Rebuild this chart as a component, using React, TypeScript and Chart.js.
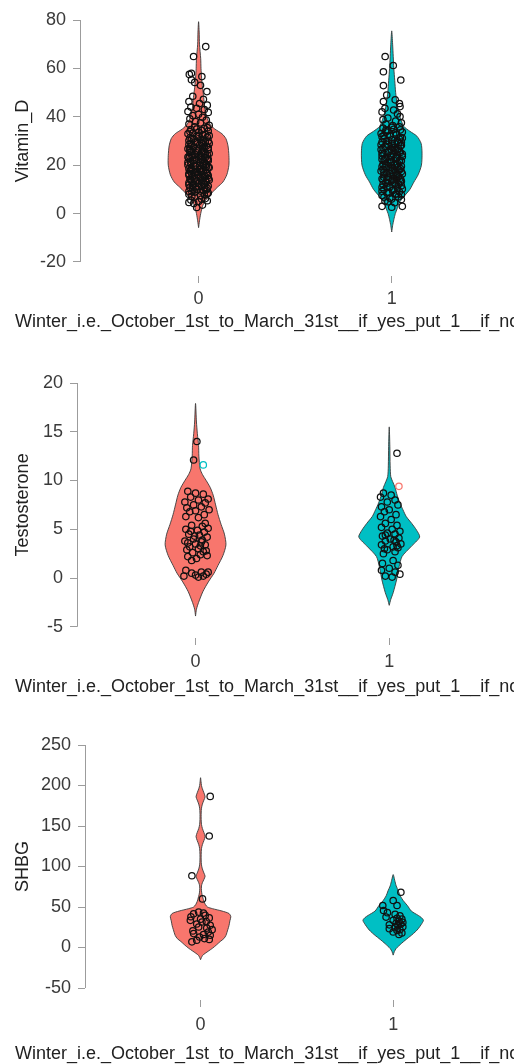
import React, { useEffect, useRef } from "react";
import { Chart, registerables } from "chart.js";

Chart.register(...registerables);

const FONT = "'Liberation Sans', Arial, Helvetica, sans-serif";
Chart.defaults.font.family = FONT;

// ---------- shared ----------
const groupLabels = ["0", "1"];
const groupPositions = [0, 1];
const xTitle = "Winter_i.e._October_1st_to_March_31st__if_yes_put_1__if_no_put_0";

// ---------- Vitamin_D ----------
const vitDTicks = [-20, 0, 20, 40, 60, 80];
const vitD0Levels = [-5.8, -3, 0, 3, 5, 7, 9, 11, 13, 16, 20, 24, 28, 31, 33, 35, 37, 40, 44, 48, 52, 56, 60, 64, 70, 75, 79.3];
const vitD0Density = [0, 0.03, 0.07, 0.13, 0.2, 0.33, 0.47, 0.63, 0.8, 0.93, 1.0, 1.0, 0.97, 0.9, 0.77, 0.53, 0.37, 0.27, 0.2, 0.17, 0.13, 0.1, 0.08, 0.07, 0.03, 0.02, 0];
const vitD1Levels = [-7.6, -5, -2.5, 0, 2, 4.5, 7, 10, 13, 16, 20, 25, 29, 32, 34, 36, 39, 42, 46, 50, 55, 60, 65, 70, 75.5];
const vitD1Density = [0, 0.03, 0.07, 0.12, 0.18, 0.25, 0.4, 0.6, 0.73, 0.87, 0.98, 1.0, 0.97, 0.83, 0.6, 0.4, 0.3, 0.23, 0.17, 0.13, 0.1, 0.07, 0.05, 0.03, 0];
// [value, jitter]
const vitD0Points = [
  [69.0, 0.037], [64.9, -0.026], [58.0, -0.037], [57.5, -0.048], [56.6, 0.017], [55.3, -0.037], [54.2, -0.02], [53.0, 0.01],
  [50.4, 0.043], [48.5, -0.03], [47.2, 0.025], [46.3, -0.05], [45.5, 0.005], [44.8, 0.045], [44.0, -0.04], [43.5, -0.01],
  [43.0, 0.03], [42.2, -0.055], [41.8, 0.05], [41.0, 0.0], [40.5, -0.03], [39.8, 0.02], [39.2, -0.045], [38.6, 0.04],
  [38.0, -0.015], [37.5, 0.01], [37.0, -0.05], [36.5, 0.055],
  [35.8, -0.02], [35.2, 0.03], [34.7, -0.04], [34.1, 0.05], [33.6, 0.0], [33.0, -0.055], [32.5, 0.02], [32.0, -0.01],
  [31.6, 0.045], [31.1, -0.035], [30.6, 0.01], [30.2, -0.05], [29.8, 0.035], [29.4, -0.015], [29.0, 0.055], [28.7, -0.04],
  [28.3, 0.005], [27.9, 0.04], [27.5, -0.025], [27.1, 0.02], [26.8, -0.055], [26.4, 0.05], [26.0, -0.005], [25.7, 0.03],
  [25.3, -0.045], [25.0, 0.015], [24.6, -0.02], [24.3, 0.045], [23.9, -0.035], [23.6, 0.0], [23.2, 0.035], [22.9, -0.05],
  [22.5, 0.02], [22.2, -0.01], [21.8, 0.05], [21.5, -0.04], [21.1, 0.01], [20.8, -0.025], [20.4, 0.04], [20.1, -0.055],
  [19.7, 0.025], [19.4, -0.015], [19.0, 0.055], [18.7, -0.035], [18.3, 0.005], [18.0, 0.035], [17.6, -0.045], [17.3, 0.015],
  [16.9, -0.02], [16.6, 0.045], [16.2, -0.005], [15.9, -0.05], [15.5, 0.03], [15.2, -0.03], [14.8, 0.01], [14.5, 0.05],
  [14.1, -0.04], [13.8, 0.02], [13.4, -0.015], [13.1, 0.04], [12.7, -0.05], [12.4, 0.0], [12.0, 0.03], [11.6, -0.03],
  [11.2, 0.015], [10.8, -0.045], [10.4, 0.045], [10.0, -0.01], [9.5, 0.025], [9.0, -0.035], [8.5, 0.05], [8.0, -0.05],
  [7.4, 0.01], [6.8, -0.02], [6.2, 0.035], [5.6, -0.04], [5.0, 0.0], [4.2, -0.025], [3.5, 0.02], [2.5, -0.01],
  [34.4, 0.015], [33.3, -0.03], [32.2, 0.055], [31.3, -0.045], [30.4, 0.025], [29.6, -0.005], [28.5, -0.05], [27.7, 0.03],
  [26.6, 0.0], [25.5, -0.035], [24.8, 0.055], [24.0, 0.01], [23.4, -0.055], [22.7, 0.045], [22.0, -0.02], [21.3, 0.03],
  [20.6, -0.04], [19.9, 0.005], [19.2, 0.04], [18.5, -0.05], [17.8, 0.025], [17.1, -0.01], [16.4, -0.035], [15.7, 0.05],
  [15.0, 0.0], [14.3, -0.045], [13.6, 0.035], [12.9, 0.015], [12.2, -0.025], [11.4, 0.05], [10.6, -0.015], [9.8, 0.04],
  [9.2, -0.05], [7.8, 0.03],
  [35.5, 0.045], [34.9, -0.01], [33.9, -0.045], [32.8, 0.035], [31.9, 0.0], [30.9, -0.025], [30.0, 0.05], [29.2, 0.015],
  [28.1, -0.035], [27.3, 0.05], [26.2, -0.045], [25.9, 0.02], [25.1, -0.01], [24.5, 0.035], [23.7, -0.045], [23.0, 0.015],
  [22.4, 0.05], [21.9, -0.03], [21.2, -0.055], [20.5, 0.02], [19.8, -0.02], [19.1, 0.05], [18.4, 0.01], [17.7, -0.03],
  [17.0, 0.04], [16.5, -0.05], [15.8, 0.0], [15.3, 0.035], [14.6, -0.02], [13.9, 0.055], [13.3, -0.035], [12.6, 0.025],
  [11.9, -0.05], [11.3, 0.0], [10.7, 0.03], [10.1, -0.03], [9.3, 0.01], [8.8, -0.02], [8.2, 0.045], [7.1, -0.035],
  [6.0, 0.015], [5.3, 0.045], [4.6, -0.05], [28.9, 0.02], [27.0, -0.045], [24.1, -0.03], [22.1, 0.01], [20.0, 0.035],
  [18.1, -0.04], [16.0, 0.02],
];
const vitD1Points = [
  [64.9, -0.034], [61.2, 0.008], [58.6, -0.043], [55.2, 0.047], [52.9, -0.043], [49.0, -0.026], [47.0, 0.018], [46.3, -0.043],
  [45.5, 0.04], [44.2, 0.043], [43.5, -0.035], [42.8, 0.01], [42.0, -0.05], [41.2, 0.03], [40.1, 0.043], [39.5, -0.02],
  [38.8, -0.045], [38.2, 0.02], [37.5, 0.05], [37.0, -0.03], [36.4, 0.005],
  [35.9, 0.04], [35.3, -0.045], [34.8, 0.01], [34.2, -0.02], [33.7, 0.055], [33.1, -0.055], [32.6, 0.025], [32.1, -0.01],
  [31.5, 0.045], [31.0, -0.04], [30.5, 0.0], [30.0, 0.03], [29.6, -0.05], [29.1, 0.015], [28.6, -0.025], [28.2, 0.05],
  [27.8, -0.035], [27.3, 0.005], [26.9, 0.035], [26.5, -0.055], [26.1, 0.02], [25.6, -0.015], [25.2, 0.045], [24.8, -0.04],
  [24.4, 0.01], [24.0, -0.005], [23.6, 0.055], [23.2, -0.03], [22.8, 0.025], [22.4, -0.05], [22.0, 0.04], [21.6, 0.0],
  [21.2, -0.02], [20.8, 0.03], [20.4, -0.045], [20.0, 0.015], [19.6, 0.05], [19.2, -0.035], [18.8, 0.005], [18.4, -0.01],
  [18.0, 0.04], [17.6, -0.055], [17.2, 0.02], [16.8, -0.025], [16.4, 0.055], [16.0, -0.04], [15.6, 0.01], [15.2, 0.035],
  [14.8, -0.015], [14.4, -0.05], [14.0, 0.025], [13.6, 0.0], [13.2, 0.045], [12.8, -0.03], [12.4, 0.015], [12.0, -0.045],
  [11.5, 0.05], [11.0, -0.01], [10.5, 0.03], [10.0, -0.04], [9.5, 0.005], [9.0, 0.04], [8.5, -0.025], [8.0, 0.02],
  [7.5, -0.05], [7.0, 0.035], [6.4, -0.01], [5.8, 0.05], [5.2, -0.035], [4.5, 0.015], [3.0, -0.05], [3.0, 0.055], [2.6, 0.0],
  [34.5, -0.03], [33.4, 0.02], [32.3, -0.04], [31.2, 0.055], [30.2, -0.015], [29.3, 0.035], [28.4, -0.055], [27.5, 0.015],
  [26.7, -0.005], [25.8, 0.04], [25.0, -0.05], [24.2, 0.03], [23.4, 0.0], [22.6, -0.035], [21.8, 0.05], [21.0, -0.005],
  [20.2, 0.025], [19.4, -0.05], [18.6, 0.045], [17.8, 0.0], [17.0, -0.04], [16.2, 0.03], [15.4, -0.02], [14.6, 0.045],
  [13.8, -0.045], [13.0, 0.01], [12.2, 0.035], [11.2, -0.025], [10.2, 0.055], [9.2, -0.05], [8.2, 0.025],
  [35.6, 0.0], [34.6, 0.045], [33.8, -0.03], [32.9, 0.01], [31.8, -0.05], [30.8, 0.04], [29.9, -0.025], [28.9, 0.0],
  [28.0, 0.045], [27.1, -0.045], [26.3, 0.03], [25.4, -0.02], [24.6, 0.055], [23.8, -0.05], [23.0, 0.02], [22.2, -0.01],
  [21.4, 0.04], [20.6, -0.03], [19.8, 0.0], [19.0, 0.03], [18.2, -0.045], [17.4, 0.05], [16.6, -0.01], [15.8, 0.025],
  [15.0, -0.04], [14.2, 0.005], [13.4, 0.05], [12.6, -0.02], [11.8, 0.02], [10.8, -0.05], [9.8, 0.01], [8.8, -0.015],
  [7.8, 0.05], [6.8, -0.04], [6.0, 0.0], [4.9, -0.02], [29.5, 0.05], [26.0, 0.0], [22.0, -0.04], [18.0, 0.015], [14.0, -0.025],
];

// ---------- Testosterone ----------
const testoTicks = [-5, 0, 5, 10, 15, 20];
const testo0Levels = [-3.9, -3.2, -2.5, -1.4, -0.4, 0.5, 1.3, 2.3, 3.4, 4.5, 5.5, 6.5, 7.5, 8.5, 9.3, 10, 10.6, 11.2, 12.5, 13.6, 14.8, 16, 17.9];
const testo0Density = [0, 0.03, 0.1, 0.24, 0.42, 0.61, 0.74, 0.9, 1.0, 0.95, 0.84, 0.74, 0.66, 0.58, 0.48, 0.35, 0.23, 0.15, 0.11, 0.1, 0.06, 0.03, 0];
const testo1Levels = [-2.8, -2.2, -1.5, -0.2, 1.1, 2.2, 3.2, 4.2, 4.9, 5.6, 6.3, 7.0, 7.7, 8.5, 9.3, 9.9, 10.4, 11.5, 13.5, 15.5];
const testo1Density = [0, 0.05, 0.13, 0.24, 0.32, 0.42, 0.71, 1.0, 0.9, 0.74, 0.56, 0.45, 0.35, 0.26, 0.19, 0.11, 0.05, 0.03, 0.02, 0];
const testo0Points = [
  [14.0, 0.007], [12.1, -0.01], [11.6, 0.04],
  [8.9, -0.04], [8.7, 0.0], [8.6, 0.04], [8.3, -0.025], [8.1, 0.065], [8.0, 0.015], [7.8, -0.055], [7.7, 0.05],
  [7.5, -0.01], [7.3, 0.03], [7.2, -0.045], [7.0, 0.07], [6.9, 0.0], [6.8, -0.03], [6.5, 0.045], [6.3, -0.05], [6.2, 0.015],
  [5.6, 0.05], [5.4, -0.02], [5.3, 0.035], [5.1, 0.065], [5.0, -0.05], [4.9, 0.01], [4.7, 0.045], [4.5, -0.035],
  [4.4, 0.02], [4.2, 0.06], [4.0, -0.01], [3.8, -0.055], [3.7, 0.03], [3.5, 0.0], [3.4, 0.05], [3.2, -0.03],
  [3.0, 0.015], [2.9, -0.045], [2.7, 0.04], [2.6, -0.015], [2.4, 0.025], [2.2, -0.04], [2.0, 0.005], [1.8, -0.02],
  [4.3, -0.005], [3.9, 0.035], [3.3, 0.025], [2.8, 0.055], [3.6, -0.04], [4.8, -0.025], [2.3, 0.06],
  [0.8, -0.05], [0.6, 0.03], [0.5, -0.02], [0.4, 0.055], [0.3, 0.0], [0.2, -0.06], [0.2, 0.04], [0.1, 0.015], [0.6, 0.065],
];
const testo1Points = [
  [12.8, 0.04], [9.4, 0.05],
  [8.7, -0.03], [8.5, 0.01], [8.3, -0.045], [8.0, 0.03], [7.8, -0.01], [7.5, 0.045], [7.3, -0.04], [7.0, 0.0],
  [6.8, -0.025], [6.5, 0.035], [6.3, -0.045], [6.0, 0.01],
  [5.6, -0.02], [5.4, 0.04], [5.2, -0.04], [5.0, 0.015], [4.8, 0.055], [4.6, -0.01], [4.5, 0.03], [4.3, -0.035],
  [4.1, 0.05], [4.0, 0.005], [3.8, -0.02], [3.7, 0.035], [3.5, 0.06], [3.4, -0.04], [3.2, 0.02], [3.1, 0.045],
  [2.9, -0.01], [2.7, 0.03], [2.5, -0.03], [3.9, 0.025], [4.4, -0.02], [3.3, 0.04], [3.0, -0.025],
  [1.8, 0.02], [1.5, -0.035], [1.3, 0.045], [1.0, 0.0], [0.8, -0.04], [0.6, 0.03], [0.4, 0.055], [0.2, -0.02], [0.1, 0.015],
];
// points whose outline is drawn in the other group's colour in the reference
const testo0OddPoint = 2;
const testo1OddPoint = 1;

// ---------- SHBG ----------
const shbgTicks = [-50, 0, 50, 100, 150, 200, 250];
const shbg0Levels = [-15, -10, -7, -1, 3, 7.4, 11, 15, 22, 27, 33, 38, 42, 45, 48, 50, 53, 57, 61, 65, 70, 76, 80, 84, 88, 92, 97, 102, 108, 115, 122, 127, 132, 137, 142, 147, 152, 158, 166, 172, 177, 182, 186, 191, 196, 200, 205, 209.6];
const shbg0Density = [0, 0.06, 0.16, 0.39, 0.52, 0.65, 0.77, 0.84, 0.9, 0.94, 0.97, 1.0, 0.94, 0.71, 0.39, 0.23, 0.16, 0.11, 0.08, 0.05, 0.03, 0.03, 0.06, 0.11, 0.15, 0.11, 0.06, 0.03, 0.02, 0.02, 0.03, 0.06, 0.11, 0.15, 0.11, 0.06, 0.03, 0.02, 0.02, 0.03, 0.06, 0.11, 0.15, 0.11, 0.06, 0.03, 0.015, 0];
const shbg1Levels = [-9.4, -5, -1.2, 4.9, 10, 15, 20, 23.3, 28, 33.5, 37, 39.6, 45, 51.8, 58, 64, 70, 76, 83, 90];
const shbg1Density = [0, 0.04, 0.1, 0.27, 0.43, 0.6, 0.75, 0.83, 0.92, 1.0, 0.93, 0.83, 0.6, 0.47, 0.33, 0.23, 0.17, 0.1, 0.05, 0];
const shbg0Points = [
  [186.5, 0.05], [137.7, 0.045], [88.6, -0.045], [60.0, 0.01],
  [43.7, -0.01], [42.5, 0.015], [41.7, -0.036], [39.6, 0.024], [38.0, -0.05], [36.5, 0.045], [35.0, 0.0], [33.5, -0.053],
  [32.0, 0.03], [31.5, 0.007], [29.0, -0.02], [27.5, 0.05], [25.3, -0.01], [24.0, 0.032], [22.0, 0.06], [20.5, -0.04],
  [19.0, 0.04], [17.2, -0.036], [16.0, 0.015], [15.1, 0.05], [13.0, -0.005], [11.0, 0.02], [10.0, 0.045], [9.0, -0.02], [7.0, -0.045],
];
const shbg1Points = [
  [68.2, 0.04], [58.0, 0.0], [51.9, 0.02], [51.8, -0.054], [45.7, -0.05], [43.0, -0.03], [41.0, 0.01], [39.0, 0.035],
  [37.6, -0.037], [36.0, 0.02], [35.0, 0.045], [33.5, 0.0], [32.5, 0.03], [31.0, 0.05], [30.0, 0.015], [29.0, 0.04],
  [28.0, -0.02], [27.0, 0.025], [25.5, 0.05], [24.5, 0.01], [23.3, -0.02], [22.0, 0.035], [21.0, 0.02], [19.2, 0.0],
  [18.0, 0.045], [16.0, 0.03],
];

// ---------- styles ----------
const GROUP_COLORS = ["#F8766D", "#00BFC4"];
const OUTLINE = "#3a3a3a";
const AXIS_COLOR = "#9c9c9c";
const TICK_TEXT = "#3a3a3a";
const TITLE_TEXT = "#222222";
const VIOLIN_HALF = 0.157;

type PanelSpec = {
  yTitle: string;
  yTicks: number[];
  violins: { levels: number[]; density: number[] }[];
  points: number[][][];
  odd?: (number | null)[];
  top: number;
  height: number;
  padTop: number;
  yAxisWidth: number;
  xAxisHeight: number;
  yMin: number;
  yMax: number;
  xMin: number;
  xMax: number;
  xTickPad: number;
  xTitleY: number;
};

const panels: PanelSpec[] = [
  {
    yTitle: "Vitamin_D", yTicks: vitDTicks,
    violins: [{ levels: vitD0Levels, density: vitD0Density }, { levels: vitD1Levels, density: vitD1Density }],
    points: [vitD0Points, vitD1Points],
    top: 0, height: 345, padTop: 20, yAxisWidth: 80, xAxisHeight: 69,
    yMin: -25.8, yMax: 80, xMin: -0.614, xMax: 1.606, xTickPad: 5, xTitleY: 322,
  },
  {
    yTitle: "Testosterone", yTicks: testoTicks,
    violins: [{ levels: testo0Levels, density: testo0Density }, { levels: testo1Levels, density: testo1Density }],
    points: [testo0Points, testo1Points],
    odd: [testo0OddPoint, testo1OddPoint],
    top: 360, height: 345, padTop: 23, yAxisWidth: 77, xAxisHeight: 67,
    yMin: -6.15, yMax: 20, xMin: -0.612, xMax: 1.617, xTickPad: 6, xTitleY: 327.5,
  },
  {
    yTitle: "SHBG", yTicks: shbgTicks,
    violins: [{ levels: shbg0Levels, density: shbg0Density }, { levels: shbg1Levels, density: shbg1Density }],
    points: [shbg0Points, shbg1Points],
    top: 720, height: 344, padTop: 25, yAxisWidth: 85, xAxisHeight: 64,
    yMin: -64.8, yMax: 250, xMin: -0.6, xMax: 1.6, xTickPad: 7, xTitleY: 334,
  },
];

function violinOutline(center: number, levels: number[], density: number[]) {
  const right = levels.map((y, i) => ({ x: center + density[i] * VIOLIN_HALF, y }));
  const left = levels.map((y, i) => ({ x: center - density[i] * VIOLIN_HALF, y })).reverse();
  return [...right, ...left.slice(1)];
}

const decorPlugin = {
  id: "decor",
  afterDraw(chart: any, _args: any, opts: any) {
    const { ctx, chartArea, scales } = chart;
    const ys = scales.y;
    const t = ys.getPixelForValue(Math.max(...opts.yTicks));
    const b = ys.getPixelForValue(Math.min(...opts.yTicks));
    const x = Math.round(chartArea.left) + 0.5;
    ctx.save();
    ctx.strokeStyle = AXIS_COLOR;
    ctx.lineWidth = 1;
    ctx.beginPath();
    ctx.moveTo(x, t);
    ctx.lineTo(x, b);
    ctx.stroke();
    ctx.fillStyle = TITLE_TEXT;
    ctx.font = `18px ${FONT}`;
    ctx.textBaseline = "middle";
    ctx.textAlign = "left";
    ctx.fillText(opts.xTitle, opts.xTitleX, opts.xTitleY);
    ctx.translate(opts.yTitleX, (t + b) / 2);
    ctx.rotate(-Math.PI / 2);
    ctx.textAlign = "center";
    ctx.fillText(opts.yTitle, 0, 0);
    ctx.restore();
  },
};

function ViolinPanel({ spec }: { spec: PanelSpec }) {
  const ref = useRef<HTMLCanvasElement>(null);
  useEffect(() => {
    if (!ref.current) return;
    const datasets: any[] = [];
    spec.violins.forEach((v, g) => {
      datasets.push({
        type: "scatter",
        data: violinOutline(groupPositions[g], v.levels, v.density),
        showLine: true,
        fill: "shape",
        backgroundColor: GROUP_COLORS[g],
        borderColor: OUTLINE,
        borderWidth: 0.9,
        pointRadius: 0,
        pointHoverRadius: 0,
        tension: 0.25,
        order: 2,
      });
    });
    spec.points.forEach((pts, g) => {
      const oddIdx = spec.odd ? spec.odd[g] : null;
      datasets.push({
        type: "scatter",
        data: pts.map(([v, j]) => ({ x: groupPositions[g] + j, y: v })),
        pointRadius: 3.2,
        pointBorderWidth: 1.25,
        pointBorderColor: pts.map((_, i) => (i === oddIdx ? GROUP_COLORS[1 - g] : "#111111")),
        pointBackgroundColor: "rgba(0,0,0,0)",
        order: 1,
        clip: false,
      });
    });
    const chart = new Chart(ref.current, {
      type: "scatter",
      data: { datasets },
      plugins: [decorPlugin as any],
      options: {
        animation: false,
        responsive: false,
        events: [],
        layout: { padding: { top: spec.padTop, left: 0, right: 0, bottom: 0 } },
        plugins: {
          legend: { display: false },
          tooltip: { enabled: false },
          decor: {
            yTicks: spec.yTicks,
            yTitle: spec.yTitle,
            xTitle,
            xTitleX: 15,
            xTitleY: spec.xTitleY,
            yTitleX: 23,
          },
        } as any,
        scales: {
          x: {
            type: "linear",
            min: spec.xMin,
            max: spec.xMax,
            afterBuildTicks: (axis: any) => {
              axis.ticks = groupPositions.map((v) => ({ value: v }));
            },
            afterFit: (axis: any) => {
              axis.height = spec.xAxisHeight;
            },
            ticks: {
              callback: (v: any) => {
                const i = groupPositions.indexOf(Number(v));
                return i >= 0 ? groupLabels[i] : "";
              },
              font: { size: 18 },
              color: TICK_TEXT,
              padding: spec.xTickPad,
              autoSkip: false,
              maxRotation: 0,
            },
            grid: { display: true, drawOnChartArea: false, drawTicks: true, tickLength: 7, color: AXIS_COLOR, tickColor: AXIS_COLOR, lineWidth: 1 },
            border: { display: false },
          },
          y: {
            type: "linear",
            min: spec.yMin,
            max: spec.yMax,
            afterBuildTicks: (axis: any) => {
              axis.ticks = spec.yTicks.map((v) => ({ value: v }));
            },
            afterFit: (axis: any) => {
              axis.width = spec.yAxisWidth;
            },
            ticks: {
              font: { size: 18 },
              color: TICK_TEXT,
              padding: 7,
              autoSkip: false,
            },
            grid: { display: true, drawOnChartArea: false, drawTicks: true, tickLength: 7, color: AXIS_COLOR, tickColor: AXIS_COLOR, lineWidth: 1 },
            border: { display: false },
          },
        },
      } as any,
    });
    return () => chart.destroy();
  }, [spec]);
  return (
    <div style={{ position: "absolute", left: 0, top: spec.top, width: 514, height: spec.height }}>
      <canvas ref={ref} width={514} height={spec.height} style={{ display: "block", width: 514, height: spec.height }} />
    </div>
  );
}

export default function App() {
  useEffect(() => {
    document.body.style.margin = "0";
  }, []);
  return (
    <div style={{ position: "absolute", left: 0, top: 0, width: 514, height: 1064, overflow: "hidden", background: "#ffffff" }}>
      {panels.map((p) => (
        <ViolinPanel key={p.yTitle} spec={p} />
      ))}
    </div>
  );
}
